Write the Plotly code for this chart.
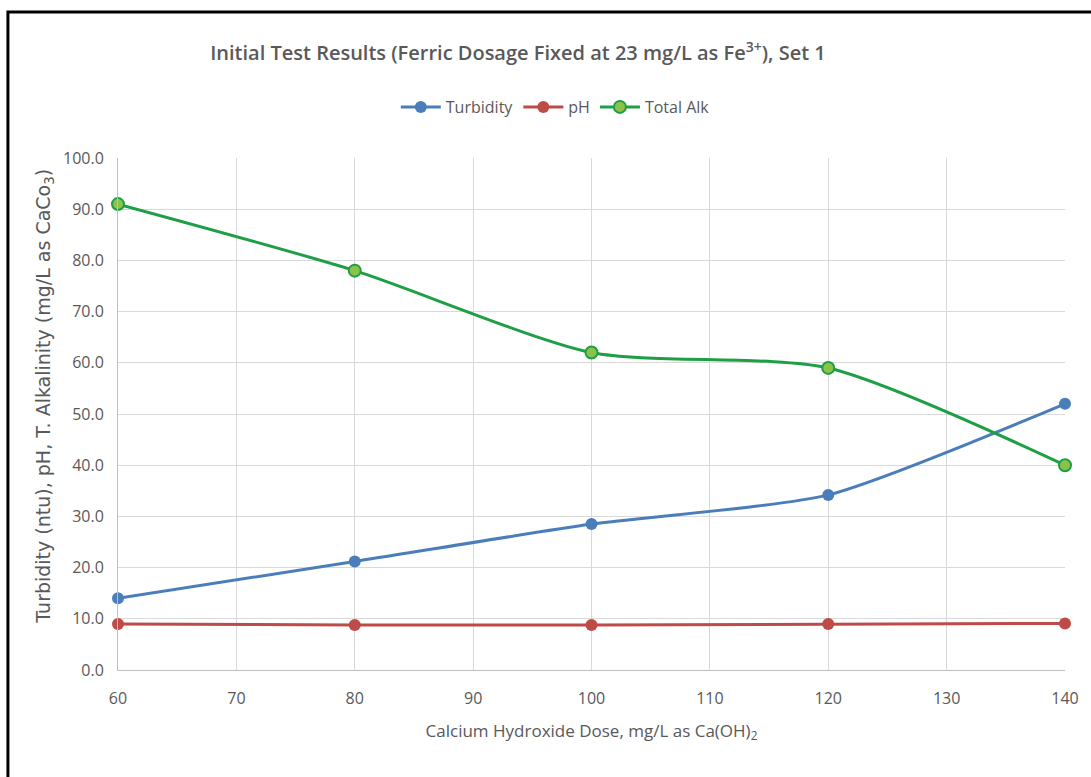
import plotly.graph_objects as go

dose = [60, 80, 100, 120, 140]
turbidity = [14.0, 21.2, 28.5, 34.2, 52.0]
ph = [9.0, 8.8, 8.8, 9.0, 9.1]
total_alk = [91.0, 78.0, 62.0, 59.0, 40.0]

x_ticks = [60, 70, 80, 90, 100, 110, 120, 130, 140]
y_ticks = [0, 10, 20, 30, 40, 50, 60, 70, 80, 90, 100]

W, H = 1091, 777
L, R, T, B = 118, 18, 158, 107
pw, ph_ = W - L - R, H - T - B

fig = go.Figure()
fig.add_trace(go.Scatter(x=dose, y=turbidity, name="Turbidity", mode="lines+markers", cliponaxis=False,
                         line=dict(color="#4a7ebb", width=3, shape="spline", smoothing=0.6),
                         marker=dict(size=12, color="#4a7ebb")))
fig.add_trace(go.Scatter(x=dose, y=ph, name="pH", mode="lines+markers", cliponaxis=False,
                         line=dict(color="#be4b48", width=3),
                         marker=dict(size=12, color="#be4b48")))
fig.add_trace(go.Scatter(x=dose, y=total_alk, name="Total Alk", mode="lines+markers", cliponaxis=False,
                         line=dict(color="#1e9e45", width=3, shape="spline", smoothing=0.7),
                         marker=dict(size=12, color="#8bc34a", line=dict(color="#1e9e45", width=2))))

def px_x(p):
    return (p - L) / pw

def px_y(p):
    return (H - B - p) / ph_

fig.add_shape(type="rect", xref="paper", yref="paper",
              x0=px_x(7), x1=px_x(1110), y0=px_y(12), y1=px_y(800),
              line=dict(color="black", width=3), fillcolor="rgba(0,0,0,0)", layer="above")

fig.add_annotation(text="Turbidity (ntu), pH, T. Alkalinity (mg/L as CaCo<sub>3</sub>)",
                   xref="paper", yref="paper", x=px_x(43), y=px_y(396),
                   xanchor="center", yanchor="middle", textangle=-90, showarrow=False,
                   font=dict(size=19, color="#595959", family="DejaVu Sans"))

fig.update_layout(
    width=W, height=H,
    margin=dict(l=L, r=R, t=T, b=B),
    paper_bgcolor="white", plot_bgcolor="white",
    font=dict(family="Open Sans", color="#595959"),
    title=dict(text="Initial Test Results (Ferric Dosage Fixed at 23 mg/L as Fe<sup>3+</sup>), Set 1",
               x=518 / W, xanchor="center", y=1 - 53 / H, yanchor="middle",
               font=dict(size=20, color="#595959", family="Open Sans", weight=600)),
    legend=dict(orientation="h", x=px_x(559), xanchor="center", y=px_y(107), yanchor="middle",
                font=dict(size=16, color="#595959"), bgcolor="rgba(0,0,0,0)",
                itemwidth=40, tracegroupgap=0),
    showlegend=True,
)
fig.update_xaxes(range=[60, 140], tickvals=x_ticks, showgrid=True, gridcolor="#d9d9d9", gridwidth=1,
                 showline=True, linecolor="#bfbfbf", linewidth=1, zeroline=False,
                 ticks="", tickfont=dict(size=16, color="#595959"), ticklabelstandoff=14,
                 title=dict(text="Calcium Hydroxide Dose, mg/L as Ca(OH)<sub>2</sub>",
                            font=dict(size=17, color="#595959"), standoff=16))
fig.update_yaxes(range=[0, 100], tickvals=y_ticks, tickformat=".1f", showgrid=True, gridcolor="#d9d9d9",
                 gridwidth=1, showline=True, linecolor="#bfbfbf", linewidth=1, zeroline=False,
                 ticks="", tickfont=dict(size=16, color="#595959"), ticklabelstandoff=10)

fig.write_html("out.html")
